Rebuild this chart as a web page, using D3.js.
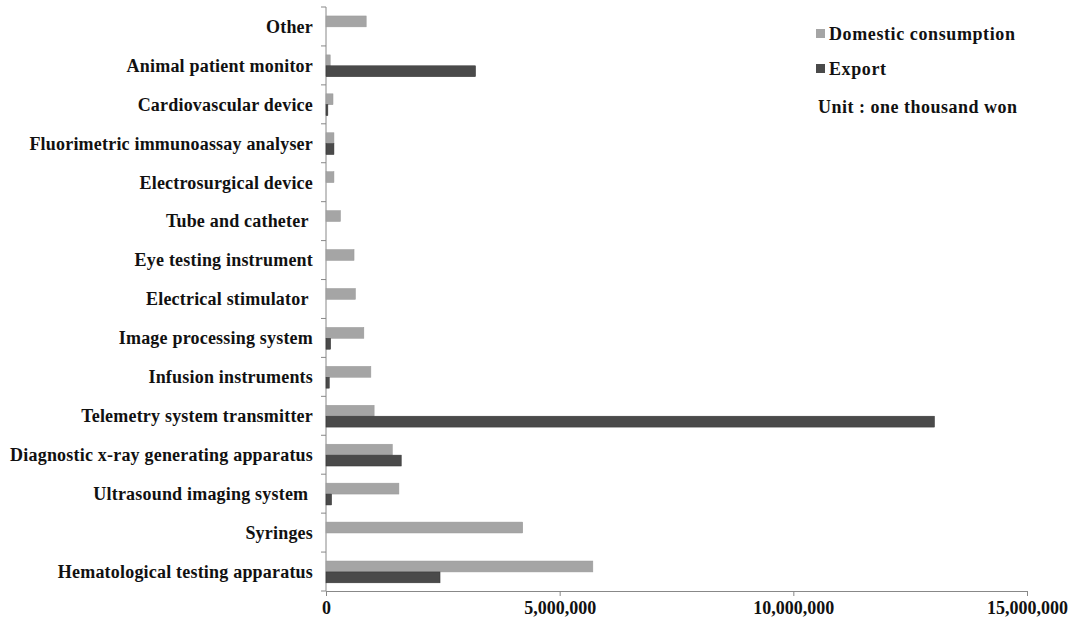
<!DOCTYPE html>
<html>
<head>
<meta charset="utf-8">
<script src="https://cdn.jsdelivr.net/npm/d3@7"></script>
<style>
  body { margin: 0; background: #fff; }
  text { font-family: "Liberation Serif", "Times New Roman", serif; font-weight: bold; fill: #111; }
</style>
</head>
<body>
<svg id="chart" width="1074" height="626"></svg>
<script>
// categories top -> bottom, values in one thousand won
const categories = ["Other", "Animal patient monitor", "Cardiovascular device", "Fluorimetric immunoassay analyser",
    "Electrosurgical device", "Tube and catheter ", "Eye testing instrument", "Electrical stimulator ",
    "Image processing system", "Infusion instruments", "Telemetry system transmitter",
    "Diagnostic x-ray generating apparatus", "Ultrasound imaging system ", "Syringes", "Hematological testing apparatus"];
const domestic = [860000, 90000, 150000, 170000, 170000, 310000, 600000, 630000, 810000, 960000, 1030000, 1420000, 1560000, 4210000, 5710000];
const exportVals = [0, 3200000, 40000, 170000, 0, 0, 0, 0, 100000, 70000, 13020000, 1610000, 120000, 0, 2440000];
const xTicks = [0, 5000000, 10000000, 15000000];
const seriesNames = ["Domestic consumption", "Export"];
const unitLabel = "Unit : one thousand won";

const colDomestic = "#a5a5a5", colExport = "#4a4a4a";

const margin = {top: 7, right: 46, bottom: 35, left: 326},
    width = 1074 - margin.left - margin.right,
    height = 626 - margin.top - margin.bottom;

const svg = d3.select("#chart")
    .append("g")
    .attr("transform", "translate(" + margin.left + "," + margin.top + ")");

var xScale = d3.scaleLinear().domain([0, 15000000]).range([0, 701]);
var yScale = d3.scaleBand().domain(categories).range([0, height]);
var inner = d3.scaleBand().domain(["d", "e"]).range([yScale.bandwidth() * 0.23, yScale.bandwidth() * 0.79]);

//x axis
svg.append("g")
    .attr("class", "x-axis")
    .attr("transform", "translate(0," + height + ")")
    .call(d3.axisBottom(xScale).tickValues(xTicks).tickSize(5).tickSizeOuter(0).tickFormat(d3.format(",")))
    .call(g => g.selectAll("path, line").attr("stroke", "#888"))
    .call(g => g.selectAll("text").style("font-size", "18px").attr("dy", "0.85em"));

//y axis, ticks at band edges
const yAxis = svg.append("g").attr("class", "y-axis");
yAxis.append("line").attr("x1", 0).attr("x2", 0).attr("y1", 0).attr("y2", height).attr("stroke", "#888");
yAxis.selectAll(".edge")
    .data(d3.range(categories.length + 1))
    .enter().append("line")
    .attr("x1", -5).attr("x2", 0)
    .attr("y1", function (i) { return i * yScale.step(); })
    .attr("y2", function (i) { return i * yScale.step(); })
    .attr("stroke", "#888");
yAxis.selectAll(".lab")
    .data(categories)
    .enter().append("text")
    .attr("x", -13)
    .attr("y", function (d) { return yScale(d) + yScale.bandwidth() / 2; })
    .attr("dy", "0.35em")
    .attr("text-anchor", "end")
    .style("font-size", "18px")
    .style("letter-spacing", "0.2px")
    .style("white-space", "pre")
    .text(function (d) { return d; });

const rows = categories.map(function (c, i) { return {cat: c, d: domestic[i], e: exportVals[i]}; });

svg.selectAll(".dom")
    .data(rows)
    .enter().append("rect")
    .attr("x", 0)
    .attr("y", function (d) { return yScale(d.cat) + inner("d"); })
    .attr("width", function (d) { return xScale(d.d); })
    .attr("height", inner.bandwidth())
    .attr("fill", colDomestic)
    .attr("stroke", "#999").attr("stroke-width", 0.5);

svg.selectAll(".exp")
    .data(rows.filter(function (d) { return d.e > 0; }))
    .enter().append("rect")
    .attr("x", 0)
    .attr("y", function (d) { return yScale(d.cat) + inner("e"); })
    .attr("width", function (d) { return xScale(d.e); })
    .attr("height", inner.bandwidth())
    .attr("fill", colExport)
    .attr("stroke", "#333").attr("stroke-width", 0.5);

// legend
const legend = d3.select("#chart").append("g").attr("transform", "translate(816,0)");
[colDomestic, colExport].forEach(function (c, i) {
    legend.append("rect").attr("x", 0).attr("y", 29 + i * 35).attr("width", 9).attr("height", 9).attr("fill", c);
    legend.append("text").attr("x", 13).attr("y", 40 + i * 35)
        .style("font-size", "18px").style("letter-spacing", "0.6px").text(seriesNames[i]);
});
legend.append("text").attr("x", 2).attr("y", 113)
    .style("font-size", "18px").style("letter-spacing", "0.5px").text(unitLabel);
</script>
</body>
</html>
